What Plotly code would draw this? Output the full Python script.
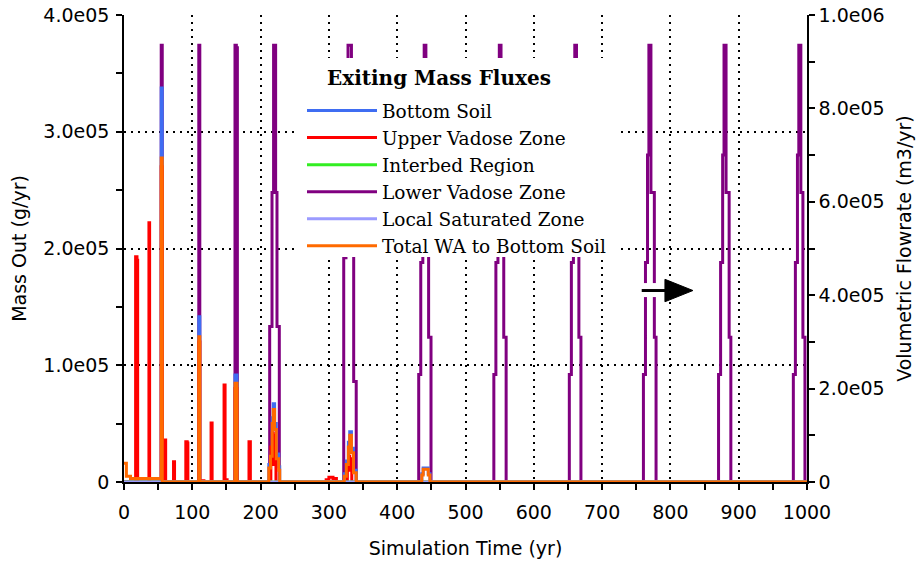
import plotly.graph_objects as go

# ---------------- data ----------------
# Lower Vadose Zone (plotted against the right axis, step series)
lvz_t = [0,
         54.5, 56.0,
         109.5, 111.0,
         162.5, 164.5, 166.0,
         213.3, 216.7, 219.0, 222.0, 224.0, 227.4,
         321.7, 325.0, 328.0, 333.0, 336.3, 340.0,
         431.5, 434.5, 437.5, 439.5, 442.0, 446.0, 449.5,
         541.5, 544.5, 547.5, 549.5, 552.0, 556.0, 559.5,
         652.0, 655.0, 658.0, 660.0, 662.5, 666.0, 669.0,
         760.5, 763.5, 766.5, 768.5, 771.5, 776.5, 779.0,
         870.5, 873.5, 876.5, 878.5, 881.5, 886.0, 888.5,
         980.0, 983.0, 986.0, 988.0, 991.0, 994.0, 997.0,
         1000]
lvz_v = [0,
         9.35e5, 0,
         9.35e5, 0,
         9.35e5, 9.3e5, 0,
         3.33e5, 6.2e5, 9.35e5, 6.2e5, 3.33e5, 0,
         4.8e5, 7.0e5, 9.35e5, 5.5e5, 2.15e5, 0,
         2.3e5, 4.7e5, 7.0e5, 9.35e5, 6.2e5, 3.1e5, 0,
         2.3e5, 4.7e5, 7.0e5, 9.35e5, 6.2e5, 3.1e5, 0,
         2.3e5, 4.7e5, 7.0e5, 9.35e5, 6.2e5, 3.1e5, 0,
         2.3e5, 4.7e5, 7.0e5, 9.35e5, 6.2e5, 3.1e5, 0,
         2.3e5, 4.7e5, 7.0e5, 9.35e5, 6.2e5, 3.1e5, 0,
         2.3e5, 4.7e5, 7.0e5, 9.35e5, 6.2e5, 3.1e5, 0,
         0]

# Bottom Soil
bs_t = [0, 54.5, 56.0, 109.5, 111.0, 162.5, 165.5,
        212.0, 214.5, 217.0, 218.5, 220.5, 223.0, 226.5, 228.0,
        322.5, 325.5, 328.5, 330.5, 333.0, 336.0, 340.0,
        436.0, 438.0, 445.5, 448.0, 1000]
bs_v = [0, 3.375e5, 0, 1.416e5, 0, 0.917e5, 0,
        0.15e5, 0.26e5, 0.55e5, 0.67e5, 0.50e5, 0.24e5, 0.13e5, 0,
        0.07e5, 0.18e5, 0.34e5, 0.43e5, 0.29e5, 0.10e5, 0,
        0.07e5, 0.12e5, 0.07e5, 0, 0]

# Upper Vadose Zone
uv_t = [0, 17.0, 19.0, 20.0, 36.5, 37.5, 54.5, 56.0, 59.5, 61.0, 72.5, 74.0,
        90.5, 92.5, 93.5, 109.5, 111.0, 115.5, 117.0, 127.5, 129.0,
        146.5, 148.0, 149.5, 151.0, 162.5, 165.5, 183.0, 185.0,
        215.0, 217.0, 218.5, 219.5, 221.0, 222.5,
        296.0, 300.0, 306.0, 311.0, 327.0, 329.0, 330.5, 332.0, 333.5, 1000]
uv_v = [0, 1.93e5, 1.90e5, 0, 2.22e5, 0, 2.70e5, 0, 0.36e5, 0, 0.174e5, 0,
        0.345e5, 0.335e5, 0, 1.20e5, 0, 0.01e5, 0, 0.505e5, 0,
        0.83e5, 0, 0.02e5, 0, 0.80e5, 0, 0.345e5, 0,
        0.30e5, 0.42e5, 0.15e5, 0.40e5, 0.20e5, 0,
        0.02e5, 0.04e5, 0.03e5, 0, 0.15e5, 0.22e5, 0.10e5, 0.20e5, 0, 0]

# Interbed Region
ib_t = [0, 1000]
ib_v = [0, 0]

# Local Saturated Zone
ls_t = [0, 1000]
ls_v = [0, 0]

# Total WA to Bottom Soil
wa_t = [0, 3.5, 9.5, 54.5, 56.0, 109.5, 111.0, 162.5, 165.5,
        212.0, 214.5, 217.0, 218.5, 220.5, 223.0, 226.5, 228.0,
        322.5, 325.5, 328.5, 330.5, 333.0, 336.0, 340.0,
        436.0, 438.0, 445.5, 448.0, 1000]
wa_v = [0.16e5, 0.05e5, 0.03e5, 2.775e5, 0, 1.245e5, 0, 0.845e5, 0,
        0.12e5, 0.22e5, 0.50e5, 0.62e5, 0.45e5, 0.20e5, 0.10e5, 0,
        0.05e5, 0.15e5, 0.30e5, 0.40e5, 0.25e5, 0.08e5, 0,
        0.06e5, 0.11e5, 0.06e5, 0, 0]

# axis ticks
x_ticks = [0, 100, 200, 300, 400, 500, 600, 700, 800, 900, 1000]
x_tick_labels = [str(v) for v in x_ticks]
left_ticks = [0, 1e5, 2e5, 3e5, 4e5]
left_tick_labels = ["0", "1.0e05", "2.0e05", "3.0e05", "4.0e05"]
right_ticks = [0, 2e5, 4e5, 6e5, 8e5, 1e6]
right_tick_labels = ["0", "2.0e05", "4.0e05", "6.0e05", "8.0e05", "1.0e06"]

# ---------------- figure ----------------
SANS = "DejaVu Sans"
SERIF = "DejaVu Serif"
LW = 3
W, H = 922, 567
ML, MR, MT, MB = 124, 115, 15, 85
PW, PH = W - ML - MR, H - MT - MB


def px(xs):  # screen pixel -> paper x
    return (xs - ML) / PW


def py(ys):  # screen pixel -> paper y
    return (H - MB - ys) / PH


series = [
    ("Lower Vadose Zone", lvz_t, lvz_v, "#800080", "y", 4),
    ("Bottom Soil", bs_t, bs_v, "#3f6df2", "y2", 1),
    ("Upper Vadose Zone", uv_t, uv_v, "#ff0000", "y2", 2),
    ("Interbed Region", ib_t, ib_v, "#33ee22", "y2", 3),
    ("Local Saturated Zone", ls_t, ls_v, "#9b9bff", "y2", 5),
    ("Total WA to Bottom Soil", wa_t, wa_v, "#ff6a00", "y2", 6),
]

fig = go.Figure()
for name, t, v, col, yax, rank in series:
    fig.add_trace(go.Scatter(x=t, y=v, name=name, mode="lines",
                             line=dict(color=col, width=LW, shape="hv"),
                             xaxis="x", yaxis=yax, legendrank=rank))

tickfont = dict(family=SANS, size=19, color="black")
titlefont = dict(family=SANS, size=19, color="black")
grid = dict(showgrid=True, gridcolor="black", gridwidth=2, griddash="2px,5px")
tk = dict(ticklen=6, tickwidth=1.5, tickcolor="black")


def minor(d, where):
    return dict(tickmode="linear", tick0=0, dtick=d, ticks=where, showgrid=False, **tk)


fig.update_layout(
    width=W, height=H,
    margin=dict(l=ML, r=MR, t=MT, b=MB, autoexpand=False),
    paper_bgcolor="white", plot_bgcolor="white",
    font=dict(family=SANS, size=19, color="black"),
    xaxis=dict(range=[0, 1000], tickmode="array", tickvals=x_ticks, ticktext=x_tick_labels,
               ticks="outside", minor=minor(50, "outside"), **tk,
               showline=True, linecolor="black", linewidth=1.5, zeroline=False,
               tickfont=tickfont, anchor="y", automargin=False, ticklabelstandoff=6,
               ticklabeloverflow="allow",
               title=dict(text="Simulation Time (yr)", font=titlefont, standoff=20),
               **grid),
    yaxis=dict(range=[0, 1e6], side="right", anchor="x", tickmode="array",
               tickvals=right_ticks, ticktext=right_tick_labels,
               ticks="outside", minor=minor(1e5, "outside"), **tk,
               showline=True, linecolor="black", linewidth=1.5, zeroline=False, showgrid=False,
               tickfont=tickfont, automargin=False, ticklabeloverflow="allow",
               title=dict(text="Volumetric Flowrate (m3/yr)", font=titlefont, standoff=14)),
    yaxis2=dict(range=[0, 4e5], side="left", overlaying="y", anchor="x", tickmode="array",
                tickvals=left_ticks, ticktext=left_tick_labels,
                ticks="outside", minor=minor(5e4, "outside"), **tk,
                showline=True, linecolor="black", linewidth=1.5, zeroline=False,
                tickfont=tickfont, automargin=False, ticklabelstandoff=3,
                ticklabeloverflow="allow",
                title=dict(text="Mass Out (g/yr)", font=titlefont, standoff=12),
                **grid),
    # overlay axes that only add the inner half of the crossing tick marks
    xaxis2=dict(range=[0, 1000], overlaying="x", anchor="y", side="bottom",
                tickmode="array", tickvals=x_ticks, ticks="inside", minor=minor(50, "inside"), **tk,
                showticklabels=False, showline=False, showgrid=False, zeroline=False,
                automargin=False),
    yaxis3=dict(range=[0, 4e5], overlaying="y", anchor="x", side="left",
                tickmode="array", tickvals=left_ticks, ticks="inside", minor=minor(5e4, "inside"), **tk,
                showticklabels=False, showline=False, showgrid=False, zeroline=False,
                automargin=False),
    yaxis4=dict(range=[0, 1e6], overlaying="y", anchor="x", side="right",
                tickmode="array", tickvals=right_ticks, ticks="inside", minor=minor(1e5, "inside"), **tk,
                showticklabels=False, showline=False, showgrid=False, zeroline=False,
                automargin=False),
    legend=dict(x=px(302), y=py(92), xanchor="left", yanchor="top",
                bgcolor="rgba(0,0,0,0)", borderwidth=0,
                font=dict(family=SERIF, size=18.5, color="black"),
                itemwidth=70, tracegroupgap=0),
    showlegend=True,
)

# white panel behind the legend and its title
fig.add_shape(type="rect", xref="paper", yref="paper", x0=px(296), x1=px(620), y0=py(257), y1=py(58),
              fillcolor="white", line=dict(width=0), layer="above")
fig.add_annotation(text="<b>Exiting Mass Fluxes</b>", xref="paper", yref="paper",
                   x=px(439), y=py(78), xanchor="center", yanchor="middle", showarrow=False,
                   font=dict(family=SERIF, size=20, color="black"))

# arrow pointing to the right-hand axis (drawn in right-axis data units)
arrow_y = 4.1e5
fig.add_shape(type="rect", xref="x", yref="y", x0=755, x1=783, y0=3.96e5, y1=4.26e5,
              fillcolor="white", line=dict(width=0), layer="above")
fig.add_shape(type="line", xref="x", yref="y", x0=758, x1=800, y0=arrow_y, y1=arrow_y,
              line=dict(color="black", width=3), layer="above")
fig.add_shape(type="path", xref="x", yref="y",
              path=f"M 833,{arrow_y} L 792,{arrow_y + 2.4e4} L 792,{arrow_y - 2.4e4} Z",
              fillcolor="black", line=dict(color="black", width=1), layer="above")

# the page's default body margin would shift the 922x567 figure; remove it
fig.write_html("out.html", config={"displayModeBar": False},
               post_script="document.body.style.margin='0px';")
